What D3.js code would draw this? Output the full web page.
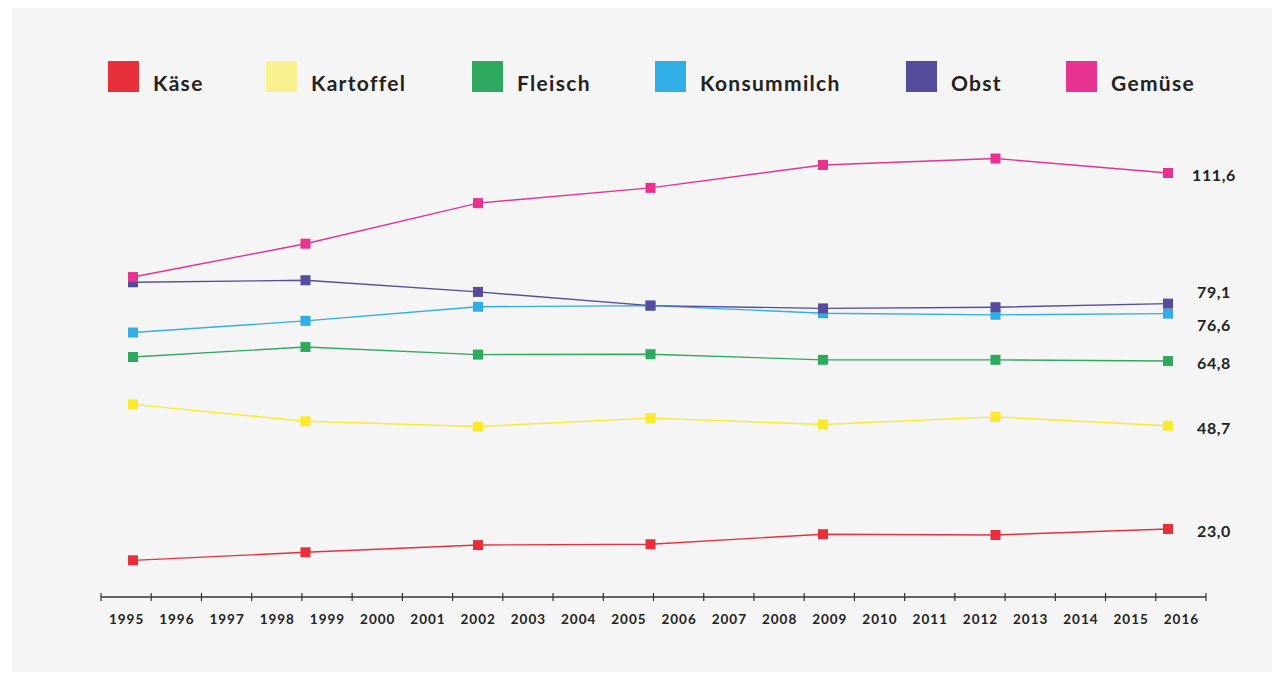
<!DOCTYPE html>
<html>
<head>
<meta charset="utf-8">
<script src="https://cdn.jsdelivr.net/npm/d3@7/dist/d3.min.js"></script>
<style>
  html, body { margin: 0; padding: 0; background: #ffffff; }
  svg { display: block; font-family: Lato, "Open Sans", sans-serif; }
</style>
</head>
<body>
<svg id="chart" width="1283" height="675"></svg>
<script>
// ---- data ----
const axisYears = d3.range(1995, 2017).map(String);
const periods = [1995, 1998.5, 2002, 2005.5, 2009, 2012.5, 2016];

const seriesNames = ["Käse", "Kartoffel", "Fleisch", "Konsummilch", "Obst", "Gemüse"];
const kaese       = [15.2, 17.2, 19.0, 19.2, 21.7, 21.5, 23.0];
const kartoffel   = [54.0, 49.8, 48.5, 50.6, 49.0, 50.9, 48.7];
const fleisch     = [65.8, 68.3, 66.4, 66.5, 65.1, 65.1, 64.8];
const konsummilch = [71.9, 74.8, 78.3, 78.6, 76.7, 76.3, 76.6];
const obst        = [84.4, 84.9, 82.0, 78.6, 77.9, 78.2, 79.1];
const gemuese     = [85.7, 94.0, 104.1, 107.9, 113.6, 115.2, 111.6];
const endLabels   = ["23,0", "48,7", "64,8", "76,6", "79,1", "111,6"];

// ---- styles ----
const lineColors   = ["#e8303c", "#fbe92e", "#2fa960", "#31aee6", "#554c9b", "#e8328f"];
const legendColors = ["#e8303c", "#f9f08f", "#2fa960", "#31aee6", "#554c9b", "#e8328f"];
const values = [kaese, kartoffel, fleisch, konsummilch, obst, gemuese];

const svg = d3.select("#chart");
svg.append("rect").attr("x", 12).attr("y", 8).attr("width", 1260).attr("height", 664).attr("fill", "#f5f5f5");

// scales
const xBand = d3.scaleBand().domain(axisYears).range([101, 1206]).padding(0);
const x = d3.scaleLinear().domain([1995, 2016]).range([133, 1168]);
const y = d3.scaleLinear().domain([0, 120]).range([621.4, 621.4 - 120 * 4.018]);

// x axis
const axisY = 597;
const ax = svg.append("g");
ax.append("line").attr("x1", xBand.range()[0]).attr("x2", xBand.range()[1])
  .attr("y1", axisY).attr("y2", axisY).attr("stroke", "#333").attr("stroke-width", 1.5);
const tickPos = axisYears.map(d => xBand(d)).concat([xBand.range()[1]]);
ax.selectAll("line.tick").data(tickPos).join("line").attr("class", "tick")
  .attr("x1", d => d).attr("x2", d => d).attr("y1", axisY - 4).attr("y2", axisY + 4)
  .attr("stroke", "#333").attr("stroke-width", 1.2);
ax.selectAll("text").data(axisYears).join("text")
  .attr("x", d => xBand(d) + xBand.bandwidth() / 2 + 0.5)
  .attr("y", 624)
  .attr("text-anchor", "middle")
  .attr("font-size", 13.5).attr("font-weight", 700).attr("letter-spacing", 1)
  .attr("fill", "#222").text(d => d);

// lines
const line = d3.line().x((d, i) => x(periods[i])).y(d => y(d));
const g = svg.append("g");
values.forEach((vals, k) => {
  g.append("path").datum(vals).attr("d", line).attr("fill", "none")
    .attr("stroke", lineColors[k]).attr("stroke-width", 1.4);
});
values.forEach((vals, k) => {
  g.selectAll(null).data(vals).join("rect")
    .attr("x", (d, i) => x(periods[i]) - 5).attr("y", d => y(d) - 5)
    .attr("width", 10).attr("height", 10).attr("fill", lineColors[k]);
});

// end labels with simple collision avoidance
const labs = values.map((vals, k) => ({ k, y: y(vals[vals.length - 1]), moved: false }));
labs.sort((a, b) => a.y - b.y);
const gap = 33;
for (let i = 0; i < labs.length - 1; i++) {
  const a = labs[i], b = labs[i + 1];
  if (b.y - a.y < gap) {
    const mid = (a.y + b.y) / 2;
    a.y = mid - gap / 2; b.y = mid + gap / 2;
    a.moved = b.moved = true;
  }
}
labs.forEach(d => { if (!d.moved) d.y += 2.5; });
svg.selectAll("text.endlab").data(labs).join("text").attr("class", "endlab")
  .attr("x", 1214).attr("y", d => d.y).attr("dy", "0.35em")
  .attr("text-anchor", "middle").attr("font-size", 16).attr("font-weight", 700)
  .attr("letter-spacing", 0.6).attr("fill", "#222")
  .text(d => endLabels[d.k]);

// legend
const legendX = [108, 266, 472, 655, 906, 1066];
const lg = svg.append("g");
seriesNames.forEach((name, k) => {
  lg.append("rect").attr("x", legendX[k]).attr("y", 61).attr("width", 31).attr("height", 31)
    .attr("fill", legendColors[k]);
  lg.append("text").attr("x", legendX[k] + 45).attr("y", 91)
    .attr("font-size", 21).attr("font-weight", 700).attr("letter-spacing", 1.3)
    .attr("fill", "#222").text(name);
});
</script>
</body>
</html>
